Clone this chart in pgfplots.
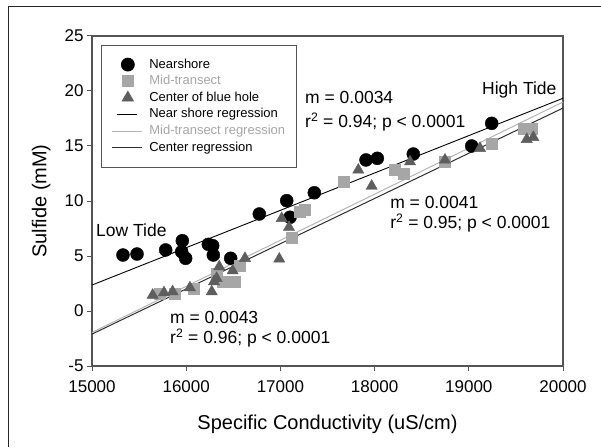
\documentclass[border=0pt]{standalone}
\usepackage{fontspec}
\setmainfont{Liberation Sans}
\usepackage{pgfplots}
\pgfplotsset{compat=1.18}

\definecolor{midgray}{HTML}{A6A6A6}
\definecolor{cengray}{HTML}{5E5E5E}
\definecolor{midline}{HTML}{B4B4B4}
\definecolor{cenline}{HTML}{2E2E2E}
\definecolor{axgray}{HTML}{555555}

\pgfplotsset{
    markleg/.style={legend image code/.code={\path[draw=none,fill=none] (0pt,-5pt) rectangle (30pt,5pt);
        \draw[##1] plot coordinates {(16pt,0pt)};}},
    shortleg/.style={legend image code/.code={\path[draw=none,fill=none] (0pt,-5pt) rectangle (30pt,5pt);
        \draw[##1] (5pt,0pt) -- (25pt,0pt);}},
    longleg/.style={legend image code/.code={\path[draw=none,fill=none] (0pt,-5pt) rectangle (30pt,5pt);
        \draw[##1] (0pt,0pt) -- (30pt,0pt);}},
}

\newcommand{\annot}{\fontsize{17.5}{21}\selectfont}

\begin{document}
\begin{tikzpicture}
\useasboundingbox (0pt,0pt) rectangle (601pt,447pt);
\draw[line width=1pt, black!85] (8pt,0pt) -- (8pt,440pt) -- (601pt,440pt);
\begin{axis}[
    at={(92pt,81pt)}, anchor=south west,
    scale only axis, width=471pt, height=330pt,
    xmin=15000, xmax=20000, ymin=-5, ymax=25,
    xtick={15000,16000,...,20000},
    ytick={-5,0,...,25},
    scaled x ticks=false,
    xtick pos=bottom, ytick pos=left,
    tick align=outside, major tick length=5pt,
    axis line style={axgray, line width=1.3pt},
    tick style={axgray, line width=1pt},
    /pgf/number format/assume math mode=true,
    /pgf/number format/1000 sep={},
    ticklabel style={font=\fontsize{17}{20}\selectfont},
    xticklabel style={yshift=-6pt},
    xlabel={Specific Conductivity (uS/cm)},
    ylabel={Sulfide (mM)},
    label style={font=\fontsize{20}{24}\selectfont},
    xlabel style={at={(axis description cs:0.5,-0.176)}, anchor=center},
    ylabel style={at={(axis description cs:-0.108,0.5)}, anchor=center},
    legend style={at={(axis description cs:0.019,0.973)}, anchor=north west,
        font=\fontsize{13}{15}\selectfont, draw=axgray, line width=0.8pt,
        inner xsep=10pt, inner ysep=11pt, row sep=0pt,
        nodes={inner ysep=1.8pt, inner xsep=1pt, text height=10pt, text depth=3pt},
        /tikz/every odd column/.append style={column sep=6pt}},
    legend cell align=left,
    clip=false,
]
% Nearshore
\addplot[only marks, mark=*, mark size=6.5pt, mark options={draw=black, fill=black}, markleg]
coordinates {
(15329,5.09) (15478,5.18) (15782,5.55) (15959,6.39) (15952,5.39) (15994,4.79)
(16235,6.06) (16281,5.94) (16288,5.09) (16472,4.79) (16776,8.82) (17067,10.03)
(17102,8.52) (17360,10.75) (17909,13.73) (18029,13.88) (18411,14.27) (19031,15.0)
(19243,17.06)
};
\addlegendentry{Nearshore}
% Mid-transect
\addplot[only marks, mark=square*, mark size=5.5pt, mark options={draw=midgray, fill=midgray}, markleg]
coordinates {
(15722,1.60) (15881,1.61) (16075,2.06) (16323,3.43) (16387,2.67) (16518,2.67)
(16571,4.09) (17120,6.70) (17208,9.03) (17261,9.18) (17675,11.75) (18217,12.82)
(18305,12.52) (18747,13.57) (19243,15.24) (19578,16.60) (19668,16.60)
};
\addlegendentry{\textcolor{midgray}{Mid-transect}}
% Center of blue hole
\addplot[only marks, mark=triangle*, mark size=6.5pt, mark options={draw=cengray, fill=cengray}, markleg]
coordinates {
(15644,1.45) (15764,1.67) (15856,1.76) (16040,2.12) (16271,1.76) (16295,2.67)
(16323,2.97) (16351,4.03) (16493,3.66) (16624,4.79) (16988,4.73) (17014,8.42)
(17091,7.61) (17827,12.82) (17969,11.36) (18376,13.57) (18747,13.73) (19119,14.79)
(19615,15.60) (19685,15.79)
};
\addlegendentry{Center of blue hole}
% regression lines
\addplot[black, line width=0.9pt, shortleg]
coordinates {(15000,2.36) (20000,19.34)};
\addlegendentry{Near shore regression}
\addplot[midline, line width=1pt, longleg]
coordinates {(15000,-1.95) (20000,19.00)};
\addlegendentry{\textcolor{midgray}{Mid-transect regression}}
\addplot[cenline, line width=1pt, longleg]
coordinates {(15000,-2.10) (20000,18.45)};
\addlegendentry{Center regression}

\node[anchor=west, font=\annot, inner sep=0pt] at (axis cs:17261,19.45) {m = 0.0034};
\node[anchor=west, font=\annot, inner sep=0pt] at (axis cs:17261,17.18) {r\textsuperscript{2} = 0.94; p < 0.0001};
\node[anchor=west, font=\annot, inner sep=0pt] at (axis cs:19140,20.09) {High Tide};
\node[anchor=west, font=\annot, inner sep=0pt] at (axis cs:18164,9.91) {m = 0.0041};
\node[anchor=west, font=\annot, inner sep=0pt] at (axis cs:18164,8.00) {r\textsuperscript{2} = 0.95; p < 0.0001};
\node[anchor=west, font=\annot, inner sep=0pt] at (axis cs:15042,7.36) {Low Tide};
\node[anchor=west, font=\annot, inner sep=0pt] at (axis cs:15828,-0.55) {m = 0.0043};
\node[anchor=west, font=\annot, inner sep=0pt] at (axis cs:15828,-2.45) {r\textsuperscript{2} = 0.96; p < 0.0001};
\end{axis}
\end{tikzpicture}
\end{document}
